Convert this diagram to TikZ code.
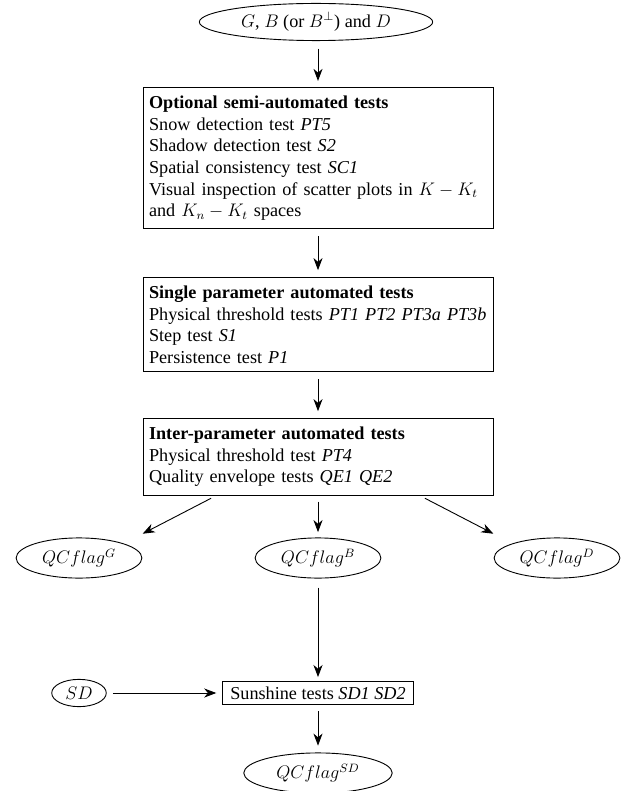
\documentclass[tikz,border=0pt]{standalone}
\usepackage{fontspec}
\setmainfont{Liberation Serif}
\usetikzlibrary{shapes.geometric,arrows.meta}
\tikzset{
  testbox/.style={draw, rectangle, align=left, text width=223pt, inner xsep=4pt, inner ysep=5.5pt, anchor=north},
  flag/.style={draw, ellipse, inner sep=1pt, minimum width=83pt, minimum height=26.5pt},
  arr/.style={-{Stealth[length=8pt,width=6pt,inset=2.5pt]}, shorten >=4pt, shorten <=4pt}
}
\begin{document}
\begin{tikzpicture}[x=0.66pt, y=-0.66pt, line width=0.6pt, font=\fontsize{12}{14.3}\selectfont]
  \useasboundingbox (0,0) rectangle (625,791);
  \node[draw, ellipse, inner sep=1pt, minimum width=154pt, minimum height=24.5pt] (input) at (316,22) {$G$, $B$ (or $B^{\perp}$) and $D$};
  \node[testbox] (semi) at (318,87) {\textbf{Optional semi-automated tests}\\
    Snow detection test \textit{PT5}\\
    Shadow detection test \textit{S2}\\
    Spatial consistency test \textit{SC1}\\
    Visual inspection of scatter plots in $K-K_t$\\
    and $K_n-K_t$ spaces};
  \node[testbox] (single) at (318,277) {\textbf{Single parameter automated tests}\\
    Physical threshold tests \textit{PT1 PT2 PT3a PT3b}\\
    Step test \textit{S1}\\
    Persistence test \textit{P1}};
  \node[testbox] (inter) at (318,418) {\textbf{Inter-parameter automated tests}\\
    Physical threshold test \textit{PT4}\\
    Quality envelope tests \textit{QE1 QE2}};
  \node[flag] (flagG) at (79,558) {$QCflag^{G}$};
  \node[flag] (flagB) at (318,558) {$QCflag^{B}$};
  \node[flag] (flagD) at (557,558) {$QCflag^{D}$};
  \node[draw, ellipse, inner sep=1pt, minimum width=36pt, minimum height=18pt] (sd) at (79,693) {$SD$};
  \node[draw, rectangle, inner xsep=5pt, inner ysep=3.5pt] (sun) at (318,693) {Sunshine tests \textit{SD1 SD2}};
  \node[flag, minimum width=98pt, minimum height=26.5pt] (flagSD) at (318,773) {$QCflag^{SD}$};
  \draw[arr, shorten <=5pt, shorten >=4pt] (semi.north |- input.south) -- (semi.north);
  \draw[arr, shorten <=4.5pt, shorten >=4.5pt] (semi.south) -- (single.north);
  \draw[arr, shorten <=4.5pt, shorten >=4.5pt] (single.south) -- (inter.north);
  \draw[arr, shorten >=14pt] ([xshift=-67pt]inter.south) -- (flagG.north east);
  \draw[arr, shorten >=3.5pt] (inter.south) -- (flagB.north);
  \draw[arr, shorten >=14pt] ([xshift=67pt]inter.south) -- (flagD.north west);
  \draw[arr, shorten <=6pt, shorten >=2.5pt] (flagB.south) -- (sun.north);
  \draw[arr] (sd.east) -- (sun.west);
  \draw[arr, shorten <=4pt, shorten >=4.5pt] (sun.south) -- (flagSD.north);
\end{tikzpicture}
\end{document}
